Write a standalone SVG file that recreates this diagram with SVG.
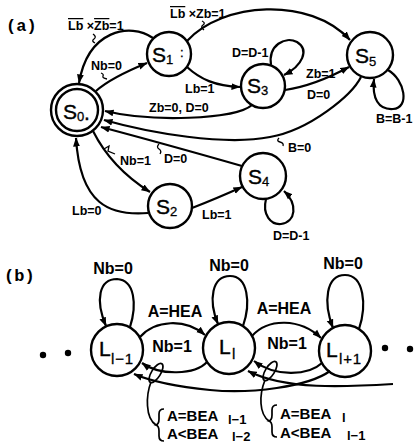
<svg xmlns="http://www.w3.org/2000/svg" width="414" height="443" viewBox="0 0 414 443">
  <defs>
    <marker id="arr" viewBox="0 0 10 10" refX="9.5" refY="5" markerWidth="9" markerHeight="9" markerUnits="userSpaceOnUse" orient="auto">
      <path d="M0,1.2 L10,5 L0,8.8 z" fill="#000"/>
    </marker>
  </defs>
  <style>
    .node circle { fill: #fff; stroke: #000; stroke-width: 2.4; }
    .edge { fill: none; stroke: #000; stroke-width: 2.2; marker-end: url(#arr); }
    .plain { fill: none; stroke: #000; stroke-width: 2.2; }
    .lead { fill: none; stroke: #000; stroke-width: 1.3; }
    .thin { fill: none; stroke: #000; stroke-width: 1.7; }
    .lbl { font-family: "Liberation Sans", Arial, sans-serif; font-weight: bold; font-size: 12.5px; fill: #000; }
    .lblb { font-family: "Liberation Sans", Arial, sans-serif; font-weight: bold; font-size: 16px; fill: #000; }
    .cond { font-family: "Liberation Sans", Arial, sans-serif; font-weight: bold; font-size: 15px; fill: #000; }
    .csub { font-family: "Liberation Sans", Arial, sans-serif; font-weight: bold; font-size: 13px; fill: #000; }
    .st { font-family: "Liberation Sans", Arial, sans-serif; font-size: 21px; fill: #000; stroke: #000; stroke-width: 0.4; }
    .sb { font-family: "Liberation Sans", Arial, sans-serif; font-size: 13px; fill: #000; stroke: #000; stroke-width: 0.3; }
    .lsb { font-family: "Liberation Sans", Arial, sans-serif; font-size: 15px; letter-spacing: 0.8px; fill: #000; stroke: #000; stroke-width: 0.3; }
    .cap { font-family: "Liberation Mono", "Courier New", monospace; font-weight: bold; font-size: 17px; fill: #000; }
    .ol { text-decoration: overline; }
    .dot { fill: #000; }
  </style>

  <!-- panel captions -->
  <text class="cap" x="6" y="31">(a)</text>
  <text class="cap" x="4" y="281">(b)</text>

  <!-- ===== (a) state machine: states ===== -->
  <g id="S0" class="node">
    <circle cx="77" cy="110" r="26"/>
    <circle cx="77" cy="110" r="21" stroke-width="2"/>
    <text class="st" x="63" y="119">S</text>
    <text class="sb" x="77" y="121">0</text>
    <text class="st" x="84" y="120" font-size="14">.</text>
  </g>
  <g id="S1" class="node">
    <circle cx="169" cy="54" r="22"/>
    <text class="st" x="152" y="62">S</text>
    <text class="sb" x="166" y="64">1</text>
    <text class="sb" x="180" y="57" font-size="11">:</text>
  </g>
  <g id="S3" class="node">
    <circle cx="263" cy="86" r="22"/>
    <text class="st" x="247" y="93">S</text>
    <text class="sb" x="261" y="95">3</text>
  </g>
  <g id="S5" class="node">
    <circle cx="370" cy="55" r="23"/>
    <text class="st" x="355" y="63">S</text>
    <text class="sb" x="369" y="66">5</text>
  </g>
  <g id="S2" class="node">
    <circle cx="170" cy="206" r="22"/>
    <text class="st" x="156" y="214">S</text>
    <text class="sb" x="170" y="216">2</text>
  </g>
  <g id="S4" class="node">
    <circle cx="263" cy="176" r="23"/>
    <text class="st" x="248" y="184">S</text>
    <text class="sb" x="262" y="186">4</text>
  </g>

  <!-- ===== (b) level chain: states ===== -->
  <g id="Lprev" class="node">
    <circle cx="117" cy="350" r="26"/>
    <text class="st" x="99" y="356">L</text>
    <text class="lsb" x="111" y="364">l−1</text>
  </g>
  <g id="Lcur" class="node">
    <circle cx="229" cy="348" r="26"/>
    <text class="st" x="219" y="354">L</text>
    <text class="lsb" x="232" y="359">l</text>
  </g>
  <g id="Lnext" class="node">
    <circle cx="345" cy="351" r="26"/>
    <text class="st" x="326" y="357">L</text>
    <text class="lsb" x="339" y="364">l+1</text>
  </g>

  <!-- ===== connectors ===== -->
  <g id="connectors">
    <!-- S1 -> S0 : not Lb x not Zb -->
    <path class="edge" d="M153,38 C130,22 88,30 79,83"/>
    <path class="lead" d="M95,43 q-4,-2 -1,-4 q3,-2 -1,-5"/>
    <!-- S0 -> S1 : Nb=0 -->
    <path class="edge" d="M96,91 C106,82 120,74 147,63"/>
    <path class="lead" d="M101,73 q3,1 2,3 q-1,2 4,3"/>
    <!-- S1 -> S5 : not Lb x Zb -->
    <path class="edge" d="M187,41 C222,2 310,-4 350,40"/>
    <path class="lead" d="M202,21 q4,2 1,4 q-3,2 1,5"/>
    <!-- S1 -> S3 : Lb=1 -->
    <path class="edge" d="M187,67 C200,79 215,86 240,87"/>
    <!-- S3 self loop : D=D-1 -->
    <path class="edge" d="M271,65 C268,45 285,36 297,42 C310,50 302,66 284,75"/>
    <!-- S3 -> S5 : Zb=1 / D=0 -->
    <path class="edge" d="M285,90 C305,87 325,80 349,67"/>
    <!-- S5 self loop : B=B-1 -->
    <path class="edge" d="M388,70 C405,80 410,108 393,109 C378,110 372,98 374,79"/>
    <!-- S3 -> S0 : Zb=0, D=0 -->
    <path class="edge" d="M252,105 C235,120 150,122 105,111"/>
    <!-- S5 -> S0 : B=0 -->
    <path class="edge" d="M361,77 C352,95 310,130 270,137 C225,146 150,133 104,120"/>
    <path class="lead" d="M279,138 q-3,3 1,4 q4,1 3,4"/>
    <!-- S4 -> S0 : D=0 -->
    <path class="edge" d="M242,166 C200,154 150,140 101,127"/>
    <path class="lead" d="M159,144 q-3,3 0,5 q3,2 1,5"/>
    <!-- S0 -> S2 : Nb=1 -->
    <path class="edge" d="M93,131 C100,145 115,170 150,192"/>
    <path class="lead" d="M104,149 l5,-3 l-1,5 l7,3"/>
    <!-- S2 -> S0 : Lb=0 -->
    <path class="edge" d="M148,213 C110,216 80,205 76,138"/>
    <!-- S2 -> S4 : Lb=1 -->
    <path class="edge" d="M192,208 C205,203 222,196 242,187"/>
    <!-- S4 self loop : D=D-1 -->
    <path class="edge" d="M266,199 C262,215 271,225 281,224 C296,222 298,204 284,191"/>

    <!-- (b) self loops : Nb=0 -->
    <path class="edge" d="M130,327 C137,305 135,280 117,279 C99,279 95,300 106,326"/>
    <path class="edge" d="M243,326 C251,303 248,276 230,276 C212,276 208,300 218,324"/>
    <path class="edge" d="M359,329 C367,305 364,275 345,275 C326,275 323,302 333,328"/>
    <!-- forward : A=HEA -->
    <path class="edge" d="M140,337 C155,320 185,318 205,335"/>
    <path class="edge" d="M252,336 C268,318 300,318 321,338"/>
    <!-- back one level : Nb=1 -->
    <path class="edge" d="M207,362 C195,375 160,376 142,363"/>
    <path class="edge" d="M322,363 C308,376 275,377 254,361"/>
    <!-- back two levels -->
    <path class="edge" d="M330,371 C308,387 250,394 210,390 C180,387 155,383 134,374"/>
    <path class="edge" d="M393,384 C345,387 285,390 248,371"/>
    <!-- grouping loops with their condition leaders -->
    <ellipse class="thin" cx="156" cy="373" rx="4.5" ry="11" transform="rotate(32 156 373)"/>
    <path class="thin" d="M151,382 C146,395 145,418 156,425"/>
    <ellipse class="thin" cx="270" cy="371" rx="4.5" ry="11" transform="rotate(32 270 371)"/>
    <path class="thin" d="M265,380 C259,395 259,414 269,421"/>
    <!-- braces -->
    <path class="thin" d="M164,409 q-5,0 -5,5 v5 q0,5 -3,6 q3,1 3,6 v5 q0,5 5,5"/>
    <path class="thin" d="M277,405 q-5,0 -5,5 v5 q0,5 -3,6 q3,1 3,6 v5 q0,5 5,5"/>
  </g>

  <!-- ===== labels (a) ===== -->
  <text class="lbl" x="68" y="30" font-size="13"><tspan class="ol">Lb</tspan> ×<tspan class="ol">Zb</tspan>=1</text>
  <text class="lbl" x="91" y="70">Nb=0</text>
  <text class="lbl" x="170" y="18" font-size="13"><tspan class="ol">Lb</tspan> ×Zb=1</text>
  <text class="lbl" x="185" y="93">Lb=1</text>
  <text class="lbl" x="232" y="57">D=D-1</text>
  <text class="lbl" x="306" y="78">Zb=1</text>
  <text class="lbl" x="307" y="99">D=0</text>
  <text class="lbl" x="376" y="123">B=B-1</text>
  <text class="lbl" x="149" y="112">Zb=0, D=0</text>
  <text class="lbl" x="288" y="152">B=0</text>
  <text class="lbl" x="164" y="163">D=0</text>
  <text class="lbl" x="120" y="165">Nb=1</text>
  <text class="lbl" x="72" y="215">Lb=0</text>
  <text class="lbl" x="202" y="219">Lb=1</text>
  <text class="lbl" x="273" y="240">D=D-1</text>

  <!-- ===== labels (b) ===== -->
  <text class="lblb" x="113" y="274" text-anchor="middle">Nb=0</text>
  <text class="lblb" x="229" y="271" text-anchor="middle">Nb=0</text>
  <text class="lblb" x="343" y="269" text-anchor="middle">Nb=0</text>
  <text class="lblb" x="175" y="317" text-anchor="middle">A=HEA</text>
  <text class="lblb" x="284" y="314" text-anchor="middle">A=HEA</text>
  <text class="lblb" x="172" y="352" text-anchor="middle">Nb=1</text>
  <text class="lblb" x="287" y="349" text-anchor="middle">Nb=1</text>

  <text class="cond" x="167" y="421">A=BEA</text>
  <text class="csub" x="228" y="424">l−1</text>
  <text class="cond" x="167" y="439">A&lt;BEA</text>
  <text class="csub" x="232" y="441">l−2</text>
  <text class="cond" x="280" y="419">A=BEA</text>
  <text class="csub" x="342" y="422">l</text>
  <text class="cond" x="280" y="438">A&lt;BEA</text>
  <text class="csub" x="347" y="440">l−1</text>

  <!-- continuation dots -->
  <circle class="dot" cx="43" cy="355" r="3.2"/>
  <circle class="dot" cx="68" cy="353" r="3.2"/>
  <circle class="dot" cx="385" cy="348" r="3.2"/>
  <circle class="dot" cx="410" cy="349" r="3.2"/>
</svg>
